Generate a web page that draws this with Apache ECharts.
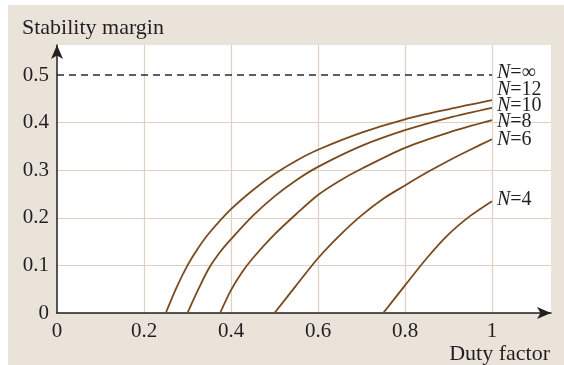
<!DOCTYPE html>
<html>
<head>
<meta charset="utf-8">
<script src="https://cdn.jsdelivr.net/npm/echarts@6/dist/echarts.min.js"></script>
<style>
html,body{margin:0;padding:0;background:#ffffff;}
#c{width:564px;height:365px;}
</style>
</head>
<body>
<div id="c"></div>
<script>
// ---- data ----
const xTicks = [0, 0.2, 0.4, 0.6, 0.8, 1];
const yTicks = [0, 0.1, 0.2, 0.3, 0.4, 0.5];

const dutyInf = [0, 1];
const marginInf = [0.5, 0.5];

const dutyN12 = [0.25, 0.275, 0.30, 0.325, 0.35, 0.40, 0.45, 0.50, 0.55, 0.60, 0.70, 0.80, 0.90, 1.0];
const marginN12 = [0, 0.054, 0.10, 0.137, 0.168, 0.218, 0.258, 0.292, 0.320, 0.343, 0.379, 0.407, 0.428, 0.447];

const dutyN10 = [0.30, 0.325, 0.35, 0.375, 0.40, 0.45, 0.50, 0.55, 0.60, 0.70, 0.80, 0.90, 1.0];
const marginN10 = [0, 0.050, 0.095, 0.128, 0.155, 0.204, 0.245, 0.279, 0.307, 0.351, 0.384, 0.410, 0.431];

const dutyN8 = [0.375, 0.40, 0.425, 0.45, 0.50, 0.55, 0.60, 0.65, 0.70, 0.80, 0.90, 1.0];
const marginN8 = [0, 0.048, 0.085, 0.115, 0.165, 0.208, 0.248, 0.278, 0.303, 0.347, 0.379, 0.405];

const dutyN6 = [0.50, 0.55, 0.60, 0.65, 0.70, 0.75, 0.80, 0.85, 0.90, 0.95, 1.0];
const marginN6 = [0, 0.058, 0.115, 0.163, 0.205, 0.240, 0.268, 0.295, 0.320, 0.343, 0.365];

const dutyN4 = [0.75, 0.80, 0.85, 0.90, 0.95, 1.0];
const marginN4 = [0, 0.058, 0.115, 0.165, 0.204, 0.235];

const seriesNames = ['∞', '12', '10', '8', '6', '4'];
const labelDy = [-2, -10, -2, 2, 0, -1];

// ---- chart ----
const FONT = '"Liberation Serif", "DejaVu Serif", serif';
const curveColor = '#7a4a1f';
const gridColor = '#dfd0c1';
const textColor = '#231f20';

function zip(xs, ys) { return xs.map((x, i) => [x, ys[i]]); }

const curveSets = [
  [dutyInf, marginInf], [dutyN12, marginN12], [dutyN10, marginN10],
  [dutyN8, marginN8], [dutyN6, marginN6], [dutyN4, marginN4]
];

const series = curveSets.map((s, i) => ({
  type: 'line',
  name: 'N=' + seriesNames[i],
  data: zip(s[0], s[1]),
  showSymbol: false,
  smooth: i === 0 ? false : 0.3,
  silent: true,
  z: i === 0 ? 3 : 4,
  lineStyle: i === 0
    ? { color: '#2b2b2b', width: 1.5, type: [7, 5] }
    : { color: curveColor, width: 1.8 },
  endLabel: {
    show: true,
    distance: 5,
    offset: [0, labelDy[i]],
    formatter: '{i|N}{r|=' + seriesNames[i] + '}',
    rich: {
      i: { fontFamily: FONT, fontSize: 20, fontStyle: 'italic', color: textColor },
      r: { fontFamily: FONT, fontSize: 20, color: textColor }
    }
  }
}));

const chart = echarts.init(document.getElementById('c'), null, { renderer: 'canvas' });

const yColors = yTicks.map(v => (v === 0.5 ? 'rgba(0,0,0,0)' : gridColor));

chart.setOption({
  animation: false,
  backgroundColor: '#ffffff',
  graphic: [
    { type: 'rect', z: -10, shape: { x: 8, y: 5, width: 556, height: 360 }, style: { fill: '#e9e3da' } },
    { type: 'text', z: 10, style: { x: 22, y: 17, text: 'Stability margin', font: '22px ' + FONT, fill: textColor } },
    { type: 'text', z: 10, style: { x: 550, y: 343, text: 'Duty factor', font: '22px ' + FONT, fill: textColor, align: 'right' } }
  ],
  grid: {
    left: 57, right: 13, top: 45, bottom: 52,
    show: true, backgroundColor: '#ffffff', borderWidth: 0
  },
  xAxis: {
    type: 'value',
    min: 0, max: 494 / 435, interval: 0.2,
    axisLine: { show: true, symbol: ['none', 'arrow'], symbolSize: [9, 14], lineStyle: { color: textColor, width: 1.5 } },
    axisTick: { show: false },
    splitLine: { show: true, showMinLine: false, showMaxLine: false, lineStyle: { color: gridColor, width: 1.2 } },
    axisLabel: {
      margin: 8, color: textColor, fontFamily: FONT, fontSize: 21,
      showMaxLabel: false,
      formatter: v => (xTicks.some(t => Math.abs(t - v) < 1e-6) ? String(+v.toFixed(1)) : '')
    }
  },
  yAxis: {
    type: 'value',
    min: 0, max: 268 / 476, interval: 0.1,
    axisLine: { show: true, symbol: ['none', 'arrow'], symbolSize: [9, 14], lineStyle: { color: textColor, width: 1.5 } },
    axisTick: { show: false },
    splitLine: { show: true, showMaxLine: false, lineStyle: { color: yColors, width: 1.2 } },
    axisLabel: {
      margin: 8, color: textColor, fontFamily: FONT, fontSize: 21,
      showMaxLabel: false,
      formatter: v => (yTicks.some(t => Math.abs(t - v) < 1e-6) ? String(+v.toFixed(1)) : '')
    }
  },
  series: series
});
</script>
</body>
</html>
